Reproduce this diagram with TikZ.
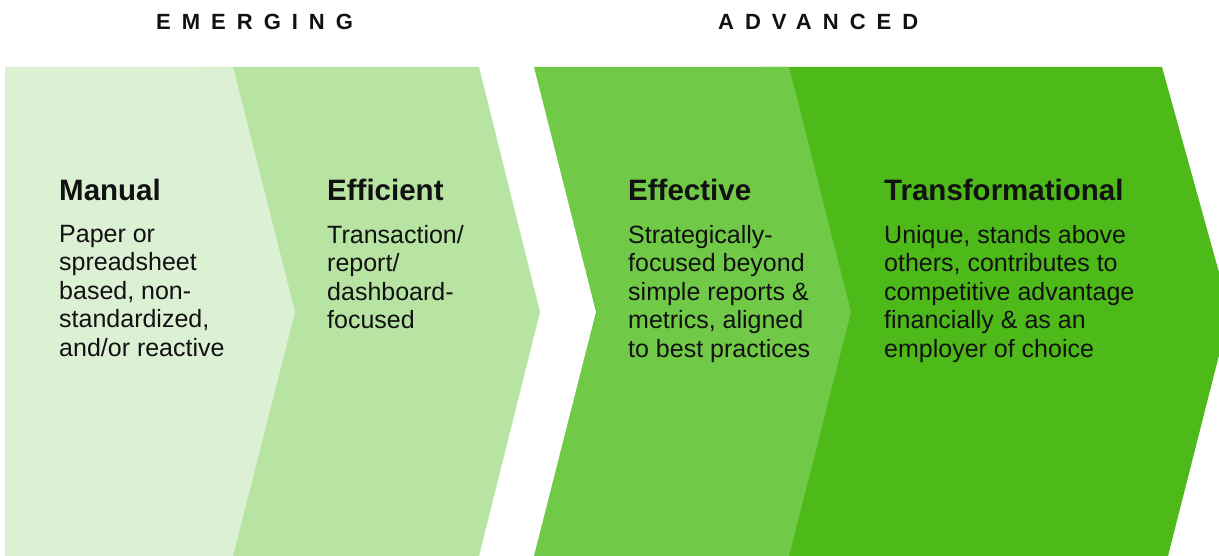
\documentclass[tikz,border=0pt]{standalone}
\usepackage{fontspec}
\setmainfont{Liberation Sans}
\definecolor{stageA}{HTML}{DCF0D4}
\definecolor{stageB}{HTML}{B8E4A3}
\definecolor{stageC}{HTML}{71C948}
\definecolor{stageD}{HTML}{4DBA19}
\definecolor{ink}{HTML}{111111}
\begin{document}
\begin{tikzpicture}[x=1pt,y=-1pt,
  header/.style={anchor=base west, inner sep=0pt, text=ink,
    font=\fontsize{22}{26}\selectfont\bfseries\addfontfeature{LetterSpace=50}},
  title/.style={anchor=base west, inner sep=0pt, text=ink,
    font=\fontsize{29.5}{34}\selectfont\bfseries},
  body/.style={anchor=north west, inner sep=0pt, align=left, text=ink,
    font=\fontsize{25}{28.5}\selectfont}]
\useasboundingbox (0,0) rectangle (1219,556);
\clip (0,0) rectangle (1219,556);

% chevron bands, later ones tucked under earlier ones
\fill[stageB] (200,67) -- (479,67) -- (540,312) -- (479,556) -- (200,556) -- cycle;
\fill[stageA] (5,67) -- (233,67) -- (295,312) -- (233,556) -- (5,556) -- cycle;
\fill[stageD] (760,67) -- (1162,67) -- (1230,312) -- (1168,556) -- (760,556) -- cycle;
\fill[stageC] (534,67) -- (789,67) -- (851,312) -- (789,556) -- (534,556) -- (596,312) -- cycle;

% group headings
\node[header] (emerging) at (156,30) {EMERGING};
\node[header] (advanced) at (718,30) {ADVANCED};

% stage titles
\node[title] (manual) at (59,201) {Manual};
\node[title] (efficient) at (327,201) {Efficient};
\node[title] (effective) at (628,201) {Effective};
\node[title] (transformational) at (884,201) {Transformational};

% stage descriptions
\node[body] (manualtxt) at (59,225) {Paper or\\spreadsheet\\based, non-\\standardized,\\and/or reactive};
\node[body] (efficienttxt) at (327,225) {Transaction/\\report/\\dashboard-\\focused};
\node[body] (effectivetxt) at (628,225) {Strategically-\\focused beyond\\simple reports \&\\metrics, aligned\\to best practices};
\node[body] (transformationaltxt) at (884,225) {Unique, stands above\\others, contributes to\\competitive advantage\\financially \& as an\\employer of choice};
\end{tikzpicture}
\end{document}
